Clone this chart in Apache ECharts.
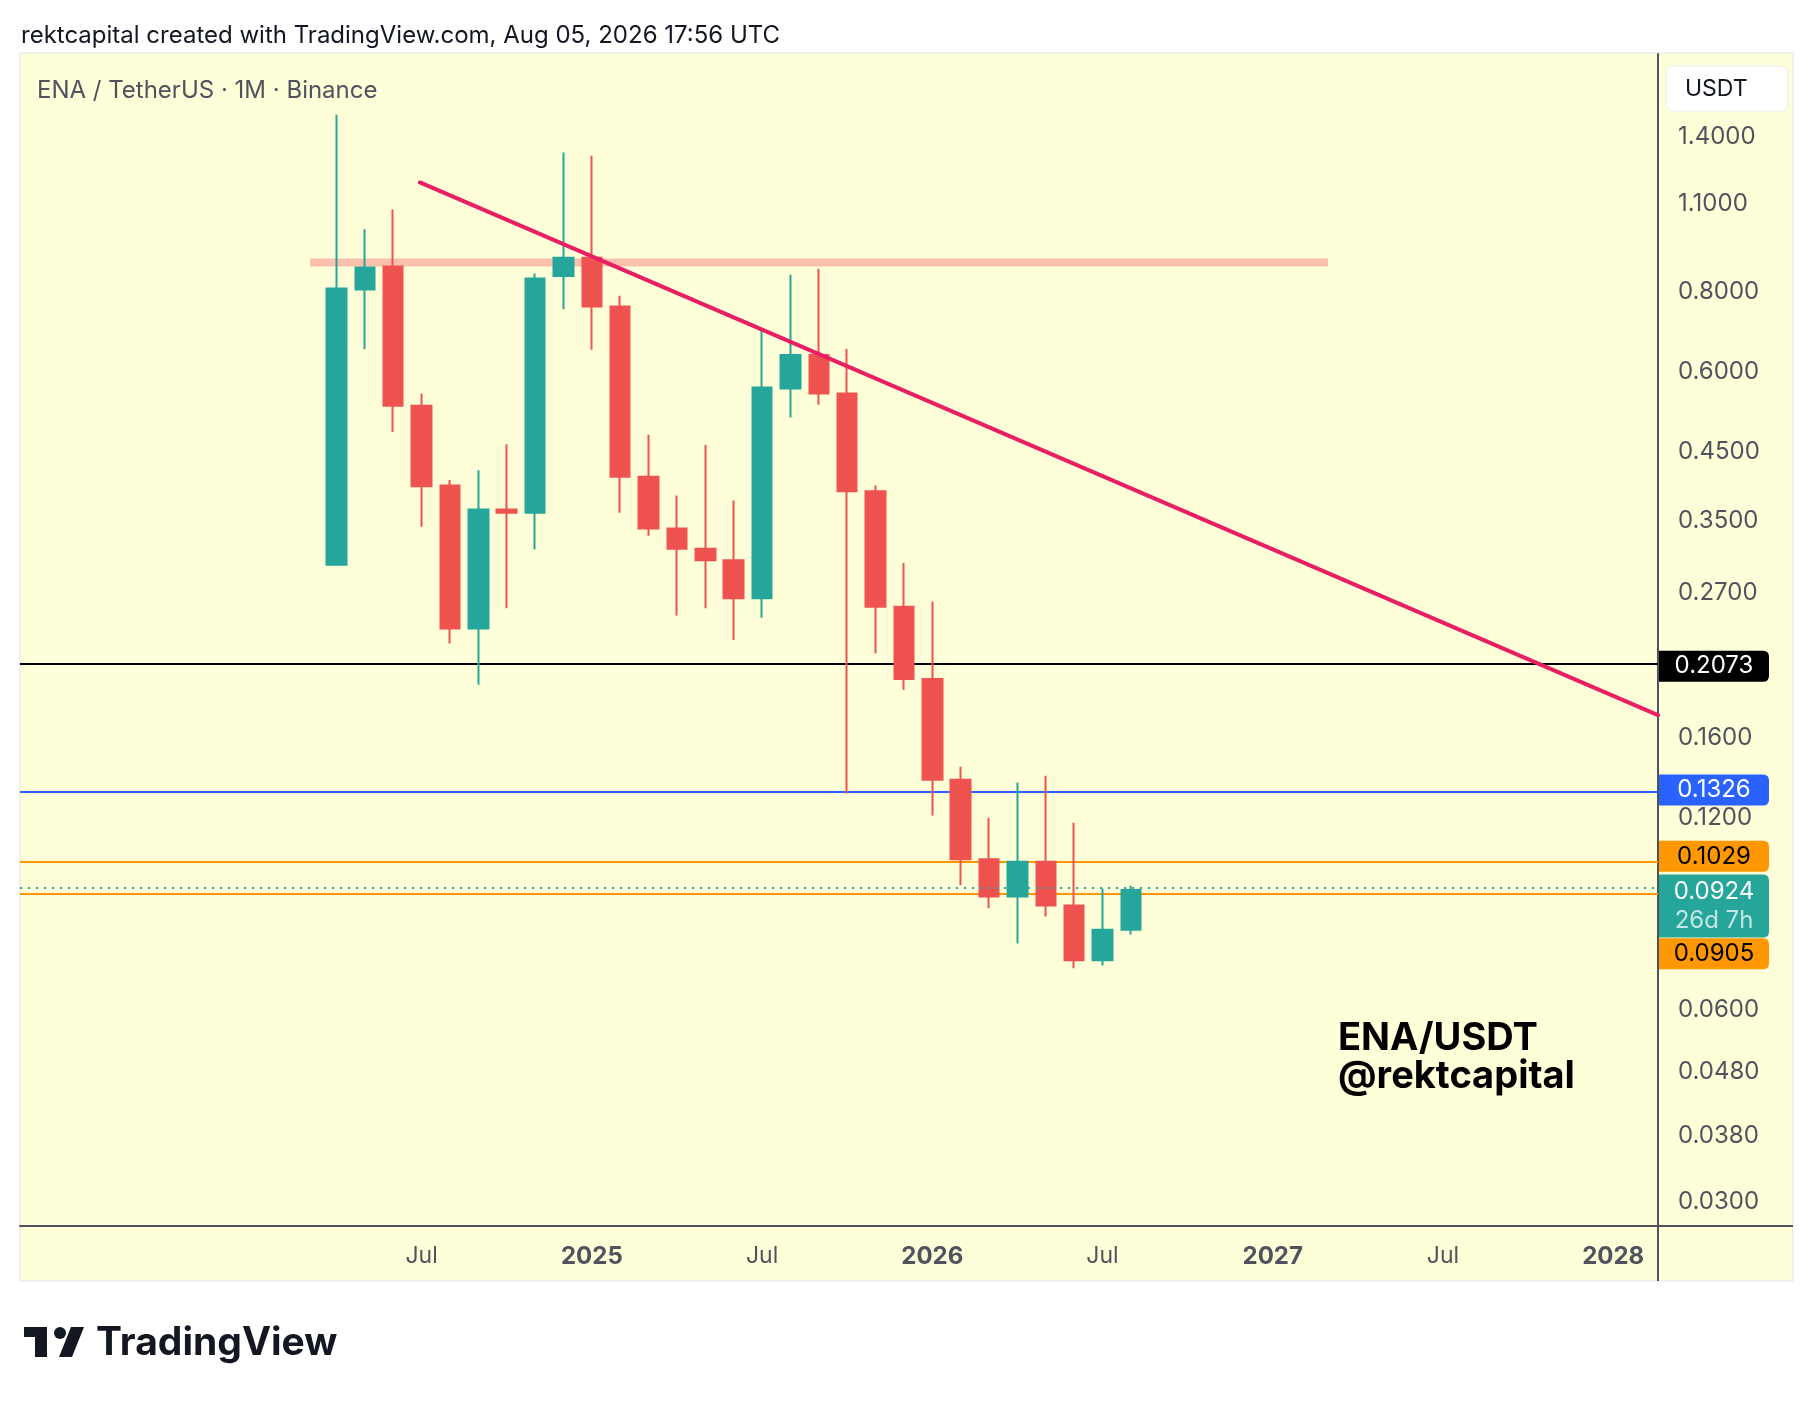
<!DOCTYPE html>
<html>
<head>
<meta charset="utf-8">
<script src="https://cdn.jsdelivr.net/npm/echarts@6.0.0/dist/echarts.min.js"></script>
<style>
html,body{margin:0;padding:0;background:#ffffff;}
#chart{width:1814px;height:1402px;}
</style>
</head>
<body>
<div id="chart"></div>
<script>
// ---------------- DATA ----------------
const months = ['2024-04','2024-05','2024-06','2024-07','2024-08','2024-09','2024-10','2024-11','2024-12',
  '2025-01','2025-02','2025-03','2025-04','2025-05','2025-06','2025-07','2025-08','2025-09','2025-10','2025-11','2025-12',
  '2026-01','2026-02','2026-03','2026-04','2026-05','2026-06','2026-07','2026-08'];
const opens  = [0.299,0.808,0.878,0.531,0.398,0.2375,0.365,0.361,0.848,
  0.906,0.760,0.411,0.341,0.317,0.304,0.265,0.565,0.638,0.555,0.390,0.257,
  0.198,0.1376,0.1033,0.0903,0.1024,0.0874,0.0717,0.0801];
const highs  = [1.518,1.004,1.078,0.555,0.406,0.4205,0.462,0.856,1.325,
  1.309,0.790,0.478,0.384,0.461,0.377,0.698,0.852,0.871,0.652,0.398,0.301,
  0.262,0.1442,0.120,0.1362,0.1396,0.1178,0.0929,0.0939];
const lows   = [0.298,0.651,0.483,0.343,0.225,0.194,0.2555,0.316,0.7525,
  0.650,0.361,0.332,0.249,0.2555,0.228,0.247,0.509,0.533,0.131,0.217,0.1905,
  0.121,0.094,0.0865,0.0762,0.084,0.0697,0.0704,0.0787];
const closes = [0.811,0.875,0.531,0.397,0.2375,0.365,0.361,0.841,0.906,
  0.760,0.411,0.341,0.317,0.304,0.265,0.567,0.638,0.555,0.390,0.257,0.198,
  0.1376,0.1033,0.0903,0.1024,0.0874,0.0717,0.0801,0.0924];

const priceTicks = [1.4,1.1,0.8,0.6,0.45,0.35,0.27,0.16,0.12,0.06,0.048,0.038,0.03];
const timeTicks = ['2024-07','2025-01','2025-07','2026-01','2026-07','2027-01','2027-07','2028-01'];

const levelValues = [0.2073, 0.1326, 0.1029, 0.0905];
const lastPrice = 0.0924;
const countdownText = '26d 7h';

// month index (months since Jan 2024) and price of the drawn trendline / resistance zone
const trendX = [5.94, 49.58];
const trendY = [1.189, 0.1738];
const zoneX = [2.07, 37.95];
const zoneY = 0.891;

const titleText = 'rektcapital created with TradingView.com, Aug 05, 2026 17:56 UTC';
const symbolText = 'ENA / TetherUS · 1M · Binance';
const watermark1 = 'ENA/USDT';
const watermark2 = '@rektcapital';

// ---------------- helpers ----------------
const lg = v => Math.log10(v);
const mi = s => { const p = s.split('-').map(Number); return (p[0] - 2024) * 12 + (p[1] - 1); };

const FONT = 'Inter, "Noto Sans", "Liberation Sans", sans-serif';
const X_MIN = -8.156, X_MAX = 49.58;
const Y_MIN = -1.561, Y_MAX = 0.2766;

const candleData = months.map((m, i) => [mi(m), lg(opens[i]), lg(closes[i]), lg(lows[i]), lg(highs[i])]);

const levelColors = ['#000000', '#2962ff', '#ff9800', '#ff9800'];
const levelTextColors = ['#ffffff', '#ffffff', '#000000', '#000000'];
const levelBoxDy = [0, 0, -4, 58];
const BOX_SMALL = 'path://M0,0 H104 Q110,0 110,6 V25 Q110,31 104,31 H0 Z';
const BOX_TALL = 'path://M0,0 H104 Q110,0 110,6 V57 Q110,63 104,63 H0 Z';

const levelLines = levelValues.map((v, i) => ({
  yAxis: lg(v),
  lineStyle: { color: levelColors[i], width: 2, type: 'solid' }
}));

const boxes = levelValues.map((v, i) => ({
  coord: [X_MAX, lg(v)],
  symbol: BOX_SMALL,
  symbolKeepAspect: false,
  symbolSize: [110, 31],
  symbolOffset: [56, levelBoxDy[i]],
  itemStyle: { color: levelColors[i] },
  label: {
    show: true, position: 'inside', formatter: v.toFixed(4),
    color: levelTextColors[i], fontSize: 24, fontFamily: FONT, padding: [3, 0, 0, 0]
  }
}));
boxes.push({
  coord: [X_MAX, lg(lastPrice)],
  symbol: BOX_TALL,
  symbolKeepAspect: false,
  symbolSize: [110, 63],
  symbolOffset: [56, 16],
  itemStyle: { color: '#26a69a' },
  label: {
    show: true, position: 'inside',
    formatter: '{a|' + lastPrice.toFixed(4) + '}\n{b|' + countdownText + '}',
    rich: {
      a: { color: '#ffffff', fontSize: 24, fontFamily: FONT, lineHeight: 29 },
      b: { color: 'rgba(255,255,255,0.72)', fontSize: 24, fontFamily: FONT, lineHeight: 29 }
    }
  }
});

const chart = echarts.init(document.getElementById('chart'), null, { renderer: 'canvas' });

const option = {
  animation: false,
  backgroundColor: '#ffffff',
  grid: { left: 20, right: 156, top: 54, bottom: 176, containLabel: false, outerBoundsMode: 'none' },
  xAxis: {
    type: 'value', min: X_MIN, max: X_MAX,
    splitLine: { show: false },
    axisTick: { show: false },
    axisLine: { show: true, onZero: false, lineStyle: { color: '#50535e', width: 2 } },
    axisLabel: {
      customValues: timeTicks.map(mi),
      formatter: v => (Math.round(v) % 12 === 0 ? '{y|' + (2024 + Math.round(v) / 12) + '}' : 'Jul'),
      color: '#50535e', fontSize: 23, fontFamily: FONT, margin: 19,
      rich: { y: { fontWeight: 'bold', fontSize: 24, color: '#50535e', fontFamily: FONT } }
    }
  },
  yAxis: {
    type: 'value', position: 'right', min: Y_MIN, max: Y_MAX,
    splitLine: { show: false },
    axisTick: { show: false },
    axisLine: { show: true, onZero: false, lineStyle: { color: '#50535e', width: 2 } },
    axisLabel: {
      customValues: priceTicks.map(lg),
      formatter: v => Math.pow(10, v).toFixed(4),
      color: '#50535e', fontSize: 24, fontFamily: FONT, margin: 20, align: 'left',
      padding: [4, 0, 0, 0]
    }
  },
  graphic: [
    { type: 'rect', z: -10, silent: true, shape: { x: 20, y: 53, width: 1773, height: 1228 },
      style: { fill: '#fefed8', stroke: '#ececec', lineWidth: 1.5 } },
    { type: 'line', z: 10, silent: true, shape: { x1: 1658, y1: 1226, x2: 1793, y2: 1226 },
      style: { stroke: '#50535e', lineWidth: 2 } },
    { type: 'line', z: 10, silent: true, shape: { x1: 1658, y1: 1226, x2: 1658, y2: 1281 },
      style: { stroke: '#50535e', lineWidth: 2 } },
    { type: 'text', z: 10, silent: true, x: 21, y: 36,
      style: { text: titleText, fill: '#131722', font: '24px ' + FONT, verticalAlign: 'middle' } },
    { type: 'text', z: 10, silent: true, x: 37, y: 91,
      style: { text: symbolText, fill: '#50535e', font: '24px ' + FONT, verticalAlign: 'middle' } },
    { type: 'rect', z: 10, silent: true, shape: { x: 1666, y: 66, width: 122, height: 45, r: 7 },
      style: { fill: '#ffffff', stroke: '#eceef2', lineWidth: 1 } },
    { type: 'text', z: 11, silent: true, x: 1685, y: 89,
      style: { text: 'USDT', fill: '#131722', font: '23px ' + FONT, verticalAlign: 'middle' } },
    { type: 'text', z: 10, silent: true, x: 1338, y: 1039,
      style: { text: watermark1, fill: '#000000', font: 'bold 38px ' + FONT, verticalAlign: 'middle' } },
    { type: 'text', z: 10, silent: true, x: 1338, y: 1077,
      style: { text: watermark2, fill: '#000000', font: 'bold 38px ' + FONT, verticalAlign: 'middle' } },
    // TradingView logo
    { type: 'rect', z: 10, silent: true, shape: { x: 24, y: 1327, width: 23, height: 10 }, style: { fill: '#131722' } },
    { type: 'rect', z: 10, silent: true, shape: { x: 35, y: 1327, width: 12, height: 30 }, style: { fill: '#131722' } },
    { type: 'circle', z: 10, silent: true, shape: { cx: 60, cy: 1333, r: 6 }, style: { fill: '#131722' } },
    { type: 'polygon', z: 10, silent: true, shape: { points: [[71, 1327], [84, 1327], [72, 1357], [59, 1357]] }, style: { fill: '#131722' } },
    { type: 'text', z: 10, silent: true, x: 96, y: 1343,
      style: { text: 'TradingView', fill: '#131722', font: 'bold 39px ' + FONT, verticalAlign: 'middle' } }
  ],
  series: [
    {
      name: 'zone', type: 'line', z: 1, silent: true, symbol: 'none',
      data: [[zoneX[0], lg(zoneY)], [zoneX[1], lg(zoneY)]],
      lineStyle: { color: '#fbc0ab', width: 8, cap: 'butt' }
    },
    {
      name: 'levels', type: 'line', z: 1, silent: true, symbol: 'none', data: [],
      markLine: { silent: true, z: 1, symbol: ['none', 'none'], label: { show: false }, data: levelLines }
    },
    {
      name: 'ENA', type: 'candlestick', z: 3, barWidth: 20,
      data: candleData,
      itemStyle: { color: '#26a69a', color0: '#ef5350', borderColor: '#26a69a', borderColor0: '#ef5350', borderWidth: 2 }
    },
    {
      name: 'price', type: 'line', z: 4, silent: true, symbol: 'none', data: [],
      markLine: { silent: true, z: 4, symbol: ['none', 'none'], label: { show: false },
        data: [{ yAxis: lg(lastPrice), lineStyle: { color: '#26a69a', width: 2, type: [2, 6] } }] },
      markPoint: { silent: true, z: 12, data: boxes }
    },
    {
      name: 'trend', type: 'line', z: 6, silent: true, symbol: 'none',
      data: [[trendX[0], lg(trendY[0])], [trendX[1], lg(trendY[1])]],
      lineStyle: { color: '#e91e63', width: 4, cap: 'round' }
    }
  ]
};
chart.setOption(option);
</script>
</body>
</html>
